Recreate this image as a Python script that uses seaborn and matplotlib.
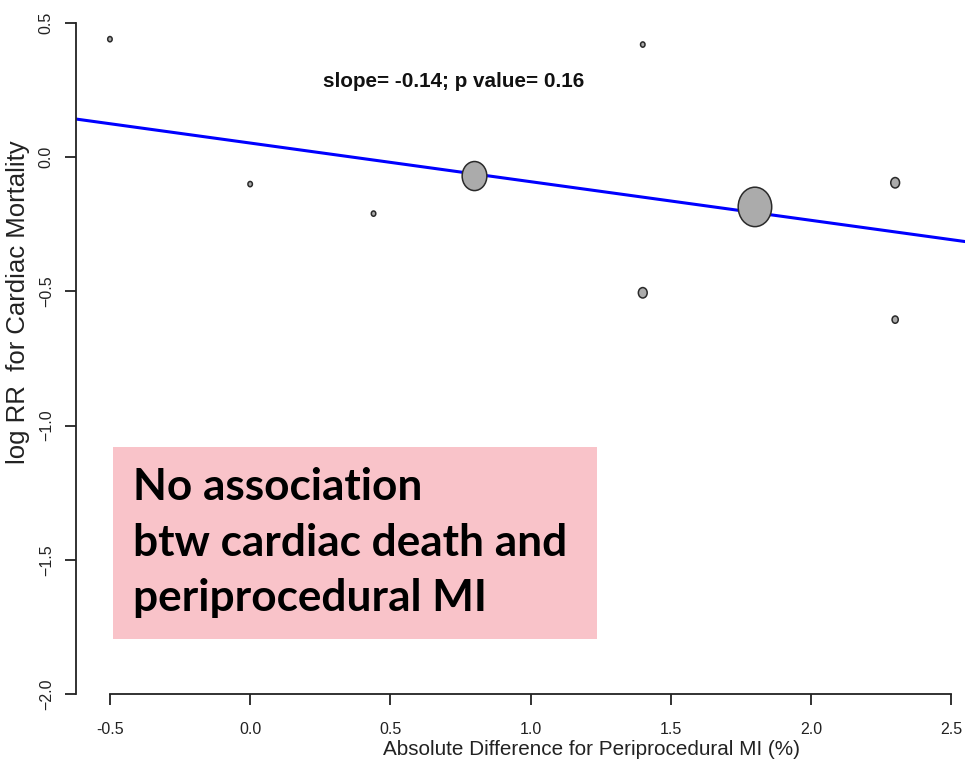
import numpy as np
import pandas as pd
import matplotlib
matplotlib.use("Agg")
import matplotlib.pyplot as plt
from matplotlib.path import Path
from matplotlib.patches import Rectangle
import seaborn as sns

# Meta-regression: per-study difference in periprocedural MI vs log RR of cardiac mortality
abs_diff_mi = [-0.5, 0.0, 0.44, 0.8, 1.4, 1.4, 1.8, 2.3, 2.3]
log_rr = [0.44, -0.10, -0.21, -0.07, 0.42, -0.505, -0.185, -0.095, -0.605]
study_weight = [1.0, 1.0, 1.0, 30.4, 1.0, 3.9, 56.0, 3.9, 1.9]

# Fitted meta-regression line
slope = -0.144
intercept = 0.053
p_value = 0.16

x_ticks = [-0.5, 0.0, 0.5, 1.0, 1.5, 2.0, 2.5]
y_ticks = [-2.0, -1.5, -1.0, -0.5, 0.0, 0.5]

x_label = "Absolute Difference for Periprocedural MI (%)"
y_label = "log RR  for Cardiac Mortality"
box_lines = ["No association", "btw cardiac death and", "periprocedural MI"]

df = pd.DataFrame({"diff": abs_diff_mi, "logrr": log_rr, "weight": study_weight})

sns.set_theme(style="white")
plt.rcParams["font.family"] = ["Liberation Sans", "DejaVu Sans"]
plt.rcParams["axes.edgecolor"] = "#222222"
plt.rcParams["xtick.color"] = "#222222"
plt.rcParams["ytick.color"] = "#222222"

W, H = 965, 766
fig = plt.figure(figsize=(W / 100, H / 100), dpi=100)
ax = fig.add_axes([76 / W, (H - 694) / H, (W - 76) / W, 694 / H])

# Slightly oval bubble marker
circ = Path.unit_circle()
oval = Path(circ.vertices * np.array([0.85, 1.0]), circ.codes)

k = 14.4
wmin, wmax = min(study_weight), max(study_weight)
ax.axline((0, intercept), slope=slope, color="#0000FF", lw=2.2, zorder=1)
sns.scatterplot(
    data=df, x="diff", y="logrr", size="weight",
    sizes=(wmin * k, wmax * k), size_norm=(wmin, wmax),
    marker=oval, color="#ABABAB", edgecolor="#2A2A2A", linewidth=1.1,
    legend=False, ax=ax, zorder=3,
)

ax.set_xlim(-0.621, 2.549)
ax.set_ylim(-2.0, 0.586)
ax.set_xticks(x_ticks)
ax.set_xticklabels([f"{v:.1f}" for v in x_ticks])
ax.set_yticks(y_ticks)
ax.set_yticklabels([f"{v:.1f}".replace("-", "\u2212") for v in y_ticks],
                   rotation=90, va="center")
ax.tick_params(axis="both", direction="out", length=8, width=1.3,
               labelsize=11.5, left=True, bottom=True)
ax.tick_params(axis="x", pad=12)
ax.tick_params(axis="y", pad=8)

for side in ["top", "right"]:
    ax.spines[side].set_visible(False)
ax.spines["left"].set_bounds(-2.0, 0.5)
ax.spines["bottom"].set_bounds(-0.5, 2.5)
ax.spines["left"].set_linewidth(1.3)
ax.spines["bottom"].set_linewidth(1.3)

ax.set_xlabel(x_label, fontsize=14.9, color="#222222")
ax.set_ylabel(y_label, fontsize=18.5, color="#222222")
ax.xaxis.set_label_coords(0.580, -0.067)
ax.yaxis.set_label_coords(-0.052, 0.565)

ax.text(0.727, 0.282, f"slope= {slope:.2f}; p value= {p_value:.2f}",
        ha="center", va="center", fontsize=14.9, fontweight="bold",
        color="#111111")

# Highlight box with the conclusion
fig.patches.append(Rectangle((113 / W, 1 - 639 / H), 484 / W, 192 / H,
                             transform=fig.transFigure, facecolor="#F9C3C9",
                             edgecolor="none", zorder=5))
for line, base in zip(box_lines, [500, 556, 611]):
    fig.text(133 / W, 1 - base / H, line, fontsize=31.8, fontweight="bold",
             family=["Lato", "DejaVu Sans"], color="black",
             va="baseline", ha="left", zorder=6)

fig.savefig("out.png", dpi=100, facecolor="white")
